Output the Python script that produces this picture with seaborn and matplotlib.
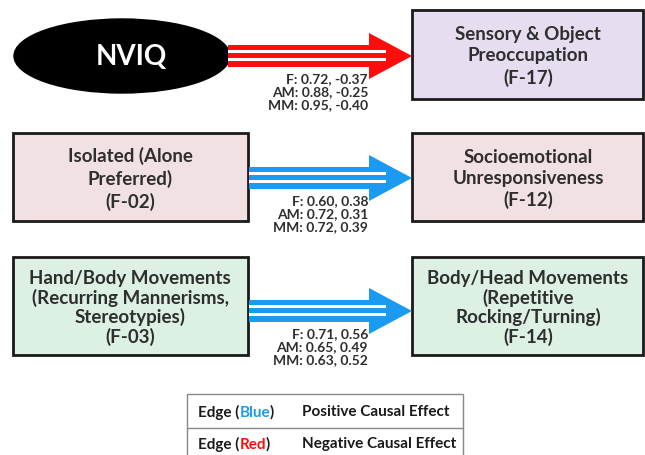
import matplotlib
matplotlib.use("Agg")
import matplotlib.pyplot as plt
import seaborn as sns
from matplotlib.patches import Ellipse, Rectangle, Polygon

sns.set_theme(style="white")
plt.rcParams['font.family'] = ['Lato', 'DejaVu Sans']

# graph content
source_labels = ["NVIQ",
                 "Isolated (Alone\nPreferred)\n(F-02)",
                 "Hand/Body Movements\n(Recurring Mannerisms,\nStereotypies)\n(F-03)"]
target_labels = ["Sensory & Object\nPreoccupation\n(F-17)",
                 "Socioemotional\nUnresponsiveness\n(F-12)",
                 "Body/Head Movements\n(Repetitive\nRocking/Turning)\n(F-14)"]
target_fills = ["#e6def0", "#f2e1e3", "#dcf1e4"]
source_fills = [None, "#f2e1e3", "#dcf1e4"]
edge_sign = ["neg", "pos", "pos"]
scores_F = [(0.72, -0.37), (0.60, 0.38), (0.71, 0.56)]
scores_AM = [(0.88, -0.25), (0.72, 0.31), (0.65, 0.49)]
scores_MM = [(0.95, -0.40), (0.72, 0.39), (0.63, 0.52)]
legend_rows = [("Blue", "Positive Causal Effect", "pos"),
               ("Red", "Negative Causal Effect", "neg")]

colors = {"pos": "#1a9af0", "neg": "#ff0d0d"}
txt = "#2e2e2e"

fig = plt.figure(figsize=(6.45, 4.56), dpi=100)
ax = fig.add_axes([0, 0, 1, 1])
ax.set_xlim(0, 645)
ax.set_ylim(456, 0)
ax.axis("off")

# row layout (pixel space)
rows = [(11, 100, 57), (134, 222, 179), (258, 356, 312)]


def draw_arrow(x0, x1, yc, color):
    xh = x1 - 43
    sh, hh = 11, 23
    pts = [(x0, yc - sh), (xh, yc - sh), (xh, yc - hh), (x1, yc),
           (xh, yc + hh), (xh, yc + sh), (x0, yc + sh)]
    ax.add_patch(Polygon(pts, closed=True, fc=color, ec="none", zorder=2))
    for dy in (-4.5, 3.5):
        ax.add_patch(Rectangle((x0, yc + dy - 1.3), xh + 17 - x0, 2.6,
                               fc="white", ec="none", zorder=3))


def fmt(v):
    return f"{v:.2f}"


def box_text(x, y, s):
    nlines = s.count("\n") + 1
    ax.text(x, y, s, ha="center", va="center", fontsize=13.5, fontweight="bold",
            color=txt, linespacing=1.3 if nlines < 4 else 1.12)


for i, (top, bot, yc) in enumerate(rows):
    # target box
    ax.add_patch(Rectangle((412, top), 231, bot - top, fc=target_fills[i],
                           ec="#1a1a1a", lw=2, zorder=1))
    box_text(528, (top + bot) / 2 + 1, target_labels[i])
    if i == 0:
        ax.add_patch(Ellipse((122, yc), 216, 74, fc="black", ec="black", zorder=1))
        ax.text(131, yc, source_labels[i], ha="center", va="center",
                fontsize=20, fontweight="bold", color="white")
        x0 = 228
    else:
        ax.add_patch(Rectangle((13, top), 235, bot - top, fc=source_fills[i],
                               ec="#1a1a1a", lw=2, zorder=1))
        box_text(130, (top + bot) / 2 + 1, source_labels[i])
        x0 = 249
    draw_arrow(x0, 412, yc, colors[edge_sign[i]])
    lab = (f"F: {fmt(scores_F[i][0])}, {fmt(scores_F[i][1])}\n"
           f"AM: {fmt(scores_AM[i][0])}, {fmt(scores_AM[i][1])}\n"
           f"MM: {fmt(scores_MM[i][0])}, {fmt(scores_MM[i][1])}")
    ax.text(368, yc + 16, lab, ha="right", va="top", fontsize=10,
            fontweight="bold", color=txt, linespacing=1.1)

# legend table
ax.add_patch(Rectangle((187, 395), 276, 70, fc="none", ec="#888888", lw=1))
ax.plot([187, 463], [429, 429], color="#888888", lw=1)
for j, (cname, meaning, sign) in enumerate(legend_rows):
    y = 412 + j * 32
    t = ax.text(198, y, "Edge (", ha="left", va="center", fontsize=11,
                fontweight="bold", color="#1a1a1a")
    t2 = ax.annotate(cname, xy=(1, 0), xycoords=t, va="bottom", fontsize=11,
                     fontweight="bold", color=colors[sign])
    ax.annotate(")", xy=(1, 0), xycoords=t2, va="bottom", fontsize=11,
                fontweight="bold", color="#1a1a1a")
    ax.text(302, y, meaning, ha="left", va="center", fontsize=11,
            fontweight="bold", color="#1a1a1a")

fig.savefig("out.png", dpi=100)
